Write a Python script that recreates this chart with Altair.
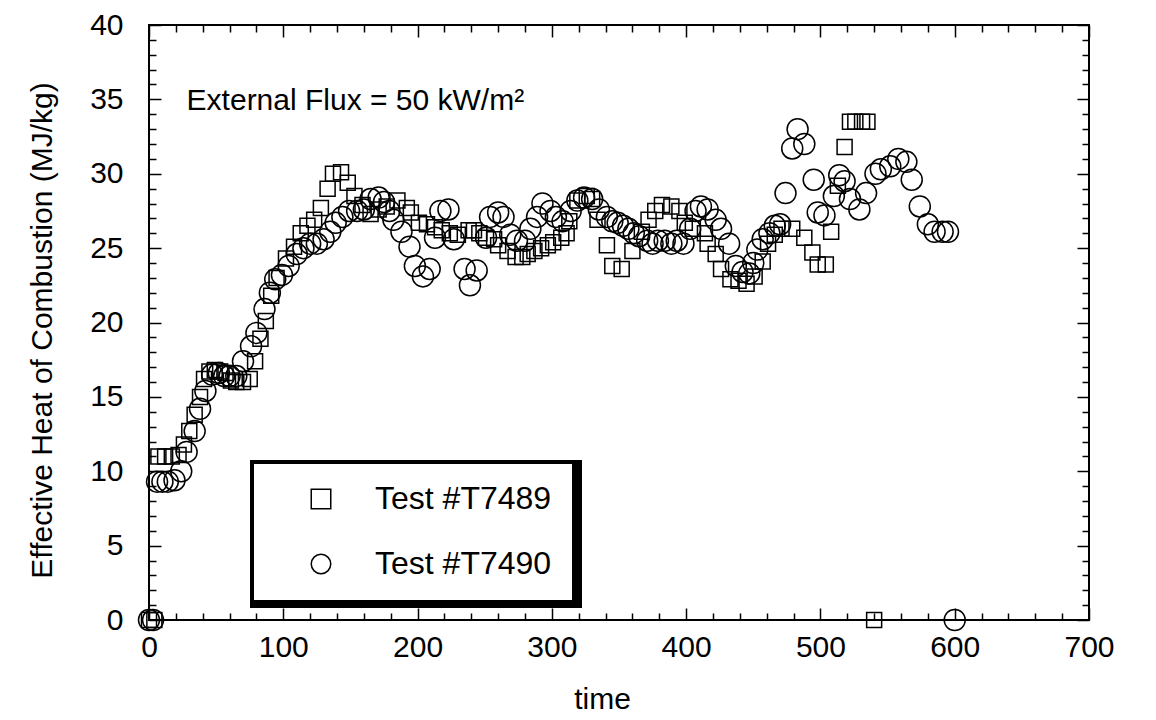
import altair as alt
import pandas as pd

# ---------------- data ----------------
series_names = ["Test #T7489", "Test #T7490"]

t7489_time = [0, 4, 7, 12, 17, 22, 26, 30, 34, 38,
              41, 45, 49, 53, 57, 61, 65, 70, 75, 79,
              83, 87, 91, 95, 102, 108, 113, 118, 123, 128,
              133, 137, 143, 148, 153, 159, 165, 171, 177, 185,
              192, 195, 201, 207, 213, 218, 224, 230, 238, 242,
              246, 251, 257, 260, 267, 273, 278, 282, 287, 292,
              297, 301, 307, 311, 313, 319, 326, 330, 334, 341,
              345, 352, 360, 367, 372, 377, 382, 389, 395, 399, 405,
              414, 416, 422, 426, 433, 439, 445, 451, 457, 461,
              466, 471, 479, 488, 494, 498, 504, 508, 513, 518,
              522, 526, 531, 535, 540]
t7489_hoc = [0, 0, 11.0, 11.0, 11.0, 11.1, 11.8, 12.7, 13.8, 15.0,
             16.2, 16.7, 16.8, 16.7, 16.6, 16.1, 16.0, 16.0, 16.2, 17.4,
             18.9, 20.1, 21.8, 23.0, 24.3, 25.1, 26.0, 26.5, 26.9, 27.7,
             29.0, 30.0, 30.1, 29.4, 28.5, 27.9, 27.3, 27.6, 27.8, 28.2,
             27.7, 27.4, 26.7, 26.6, 26.4, 26.2, 26.0, 25.9, 26.2, 26.2,
             26.0, 25.7, 25.6, 25.2, 24.8, 24.4, 24.4, 24.6, 24.8, 25.0,
             25.2, 25.4, 25.7, 26.0, 26.8, 28.2, 28.5, 28.3, 26.9, 25.2,
             23.8, 23.6, 24.8, 26.1, 26.9, 27.5, 27.9, 27.8, 27.5, 26.7, 26.3,
             26.0, 25.3, 24.6, 23.6, 22.9, 22.8, 22.6, 23.1, 24.1, 25.3,
             25.9, 26.3, 26.3, 25.7, 24.7, 23.9, 23.9, 26.1, 29.2, 31.8,
             33.5, 33.5, 33.5, 33.5, 0]

t7490_time = [0, 3, 6, 10, 14, 19, 24, 28, 34, 38,
              42, 47, 52, 56, 60, 65, 70, 76, 80, 86,
              90, 94, 99, 104, 110, 115, 120, 125, 130, 135,
              139, 144, 149, 155, 160, 165, 171, 175, 179, 182,
              188, 194, 198, 204, 209, 213, 217, 223, 227, 235,
              239, 244, 251, 254, 260, 264, 269, 274, 280, 284,
              289, 293, 299, 303, 308, 314, 319, 324, 330, 335,
              341, 345, 349, 353, 357, 361, 365, 371, 375, 379,
              384, 389, 393, 398, 403, 407, 411, 416, 422, 426,
              432, 437, 442, 447, 450, 453, 457, 462, 466, 470,
              474, 479, 483, 488, 495, 498, 503, 510, 514, 518,
              522, 529, 534, 541, 545, 552, 558, 564, 568, 574,
              580, 585, 591, 595, 600]
t7490_hoc = [0, 0, 9.3, 9.3, 9.3, 9.4, 10.0, 11.3, 12.7, 14.2,
             15.4, 16.5, 16.6, 16.4, 16.4, 16.4, 17.4, 18.4, 19.3, 20.9,
             22.0, 22.9, 23.2, 23.8, 24.6, 25.0, 25.3, 25.3, 25.6, 26.1,
             26.7, 27.1, 27.5, 27.5, 27.6, 28.3, 28.4, 28.1, 27.5, 26.9,
             26.1, 25.1, 23.8, 23.1, 23.6, 25.7, 27.5, 27.6, 25.6, 23.6,
             22.5, 23.5, 25.7, 27.1, 27.4, 27.1, 25.9, 25.5, 25.5, 26.3,
             27.1, 28.0, 27.5, 27.1, 26.8, 27.5, 28.2, 28.4, 28.3, 27.6,
             27.1, 26.8, 26.7, 26.5, 26.3, 26.0, 25.8, 25.5, 25.3, 25.5,
             25.5, 25.3, 25.5, 25.3, 26.3, 27.5, 27.8, 27.6, 26.9, 26.3,
             25.3, 23.8, 23.4, 23.3, 24.0, 24.9, 25.6, 26.0, 26.5, 26.6,
             28.7, 31.7, 33.0, 32.0, 29.6, 27.4, 27.2, 28.5, 29.9, 29.5,
             28.3, 27.6, 28.7, 30.0, 30.3, 30.5, 31.0, 30.8, 29.6, 27.8,
             26.6, 26.1, 26.1, 26.1, 0]

x_tick_values = list(range(0, 701, 20))
y_tick_values = list(range(0, 41))

annotation_text = ["External Flux = 50 kW/m²"]
annotation_time = [28]
annotation_hoc = [34.3]

# ---------------- chart ----------------
FONT = "Liberation Sans"

sq = pd.DataFrame({"time": t7489_time, "hoc": t7489_hoc, "series": series_names[0]})
ci = pd.DataFrame({"time": t7490_time, "hoc": t7490_hoc, "series": series_names[1]})
ann = pd.DataFrame({"time": annotation_time, "hoc": annotation_hoc, "label": annotation_text})

xscale = alt.Scale(domain=[0, 700], nice=False, zero=False)
yscale = alt.Scale(domain=[0, 40], nice=False, zero=False)
shape_scale = alt.Scale(domain=series_names, range=["square", "circle"])

x_dash = {"condition": {"test": "datum.value % 100 === 0", "value": [12, 4000]}, "value": [7, 4000]}
y_dash = {"condition": {"test": "datum.value % 5 === 0", "value": [12, 4000]}, "value": [7, 4000]}

tick_style = dict(grid=True, gridColor="black", gridWidth=1.5, gridOpacity=1,
                  ticks=False, domain=False)

ax_bottom = alt.Axis(orient="bottom", values=x_tick_values, gridDash=x_dash,
                     labelExpr="datum.value % 100 === 0 ? datum.label : ''",
                     labelOverlap=False, labelFlush=False, labelFont=FONT,
                     labelFontSize=30, labelColor="black", labelPadding=12,
                     title="time", titleFont=FONT, titleFontSize=30,
                     titleFontWeight="normal", titleColor="black",
                     titleX=453, titleY=64, titleAlign="center", titleBaseline="top",
                     **tick_style)
ax_left = alt.Axis(orient="left", values=y_tick_values, gridDash=y_dash,
                   labelExpr="datum.value % 5 === 0 ? datum.label : ''",
                   labelOverlap=False, labelFlush=False, labelFont=FONT,
                   labelFontSize=30, labelColor="black", labelPadding=26,
                   title="Effective Heat of Combustion (MJ/kg)", titleFont=FONT,
                   titleFontSize=30, titleFontWeight="normal", titleColor="black",
                   titleX=-107, titleY=305, titleAlign="center", titleBaseline="middle",
                   titleAngle=270, **tick_style)
ax_top = alt.Axis(orient="top", values=x_tick_values, gridDash=x_dash,
                  labels=False, title="", **tick_style)
ax_right = alt.Axis(orient="right", values=y_tick_values, gridDash=y_dash,
                    labels=False, title="", **tick_style)

legend = alt.Legend(title=None, orient="none", legendX=104, legendY=438,
                    direction="vertical", fillColor="white", strokeColor="black",
                    padding=20, labelFont=FONT, labelFontSize=32, labelLimit=500,
                    labelColor="black", labelOffset=38, symbolOffset=32,
                    symbolSize=380, symbolStrokeWidth=1.5, symbolStrokeColor="black",
                    symbolFillColor="transparent", rowPadding=33)

# black box behind the legend: gives its heavy border and drop shadow
shadow = alt.Chart(pd.DataFrame({"k": [0]})).mark_rect(color="black").encode(
    x=alt.value(101), x2=alt.value(433), y=alt.value(435), y2=alt.value(583)
)

squares = alt.Chart(sq).mark_point(filled=False, color="black", strokeWidth=1.5,
                                   size=225, opacity=1).encode(
    x=alt.X("time:Q", scale=xscale, axis=ax_bottom),
    y=alt.Y("hoc:Q", scale=yscale, axis=ax_left),
    shape=alt.Shape("series:N", scale=shape_scale, legend=legend),
)

circles = alt.Chart(ci).mark_point(filled=False, color="black", strokeWidth=1.5,
                                   size=441, opacity=1).encode(
    x=alt.X("time:Q", scale=xscale, axis=ax_top),
    y=alt.Y("hoc:Q", scale=yscale, axis=ax_right),
    shape=alt.Shape("series:N", scale=shape_scale, legend=legend),
)

text = alt.Chart(ann).mark_text(align="left", baseline="alphabetic", font=FONT,
                                fontSize=30, color="black").encode(
    x=alt.X("time:Q", scale=xscale, axis=None),
    y=alt.Y("hoc:Q", scale=yscale, axis=None),
    text="label:N",
)

chart = alt.layer(shadow, squares, circles, text).resolve_axis(
    x="independent", y="independent"
).properties(
    width=940, height=595,
    padding={"left": 149, "top": 25, "right": 67, "bottom": 100},
    autosize=alt.AutoSizeParams(type="none"),
    background="white",
).configure_view(stroke="black", strokeWidth=2)

chart.save("out.html", embed_options={"renderer": "svg", "actions": False})
